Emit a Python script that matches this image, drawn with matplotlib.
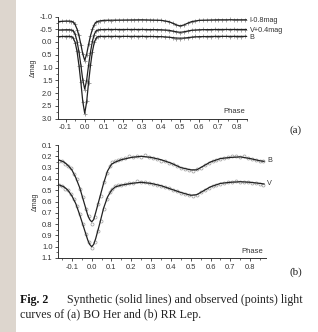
import matplotlib
matplotlib.use("Agg")
import matplotlib.pyplot as plt
from matplotlib.patches import Rectangle
from matplotlib.ticker import MultipleLocator

# ---------------- Data: (a) BO Her ----------------
phase_a_line = [-0.14, -0.10, -0.08, -0.07, -0.065, -0.06, -0.05, -0.04, -0.03, -0.02, -0.01, 0.0,
                0.01, 0.02, 0.03, 0.04, 0.05, 0.06, 0.065, 0.07, 0.08, 0.10, 0.20, 0.30, 0.40, 0.44,
                0.46, 0.48, 0.50, 0.52, 0.54, 0.56, 0.60, 0.70, 0.80, 0.85]
B_a_line = [-0.21, -0.22, -0.22, -0.21, -0.20, -0.15, 0.02, 0.38, 0.93, 1.60, 2.35, 2.80,
            2.35, 1.60, 0.93, 0.38, 0.02, -0.15, -0.20, -0.21, -0.22, -0.22, -0.22, -0.22, -0.21, -0.19,
            -0.17, -0.155, -0.15, -0.155, -0.17, -0.19, -0.21, -0.22, -0.22, -0.22]
V_a_line = [-0.47, -0.48, -0.48, -0.47, -0.46, -0.44, -0.30, -0.02, 0.40, 0.92, 1.50, 1.85,
            1.50, 0.92, 0.40, -0.02, -0.30, -0.44, -0.46, -0.47, -0.48, -0.49, -0.49, -0.49, -0.48, -0.46,
            -0.43, -0.40, -0.38, -0.40, -0.43, -0.46, -0.48, -0.49, -0.49, -0.49]
I_a_line = [-0.80, -0.82, -0.82, -0.81, -0.80, -0.78, -0.68, -0.50, -0.24, 0.10, 0.48, 0.72,
            0.48, 0.10, -0.24, -0.50, -0.68, -0.78, -0.80, -0.81, -0.83, -0.85, -0.86, -0.87, -0.85, -0.80,
            -0.74, -0.67, -0.63, -0.67, -0.74, -0.80, -0.85, -0.87, -0.87, -0.87]

phase_a_obs = [-0.14, -0.12, -0.10, -0.08, -0.07, -0.06, -0.05, -0.04, -0.03, -0.02,
               -0.01, 0.0, 0.01, 0.02, 0.03, 0.04, 0.05, 0.06, 0.07, 0.08,
               0.10, 0.12, 0.14, 0.16, 0.18, 0.20, 0.22, 0.24, 0.26, 0.28,
               0.30, 0.32, 0.34, 0.36, 0.38, 0.40, 0.42, 0.44, 0.46, 0.48,
               0.50, 0.52, 0.54, 0.56, 0.58, 0.60, 0.62, 0.64, 0.66, 0.68,
               0.70, 0.72, 0.74, 0.76, 0.78, 0.80, 0.82, 0.84]
B_a_obs = [-0.19, -0.24, -0.20, -0.23, -0.19, -0.14, 0.03, 0.36, 0.95, 1.58,
           2.37, 2.82, 2.33, 1.62, 0.90, 0.40, 0.01, -0.16, -0.21, -0.24,
           -0.20, -0.23, -0.21, -0.25, -0.20, -0.22, -0.24, -0.19, -0.23, -0.21,
           -0.25, -0.20, -0.22, -0.24, -0.19, -0.22, -0.20, -0.18, -0.15, -0.13,
           -0.12, -0.14, -0.16, -0.19, -0.22, -0.20, -0.24, -0.21, -0.19, -0.23,
           -0.20, -0.22, -0.25, -0.20, -0.23, -0.21, -0.19, -0.22]
V_a_obs = [-0.46, -0.49, -0.47, -0.49, -0.46, -0.43, -0.31, 0.00, 0.38, 0.94,
           1.48, 1.87, 1.52, 0.90, 0.42, -0.04, -0.29, -0.45, -0.47, -0.50,
           -0.47, -0.50, -0.48, -0.51, -0.47, -0.49, -0.51, -0.47, -0.50, -0.48,
           -0.51, -0.47, -0.49, -0.51, -0.47, -0.49, -0.47, -0.45, -0.42, -0.39,
           -0.37, -0.40, -0.43, -0.46, -0.49, -0.47, -0.51, -0.48, -0.47, -0.50,
           -0.47, -0.49, -0.51, -0.47, -0.50, -0.48, -0.47, -0.49]
I_a_obs = [-0.79, -0.83, -0.81, -0.83, -0.80, -0.77, -0.69, -0.48, -0.26, 0.12,
           0.46, 0.74, 0.50, 0.08, -0.22, -0.52, -0.67, -0.79, -0.80, -0.84,
           -0.84, -0.86, -0.84, -0.87, -0.85, -0.87, -0.85, -0.88, -0.86, -0.88,
           -0.86, -0.88, -0.86, -0.88, -0.85, -0.86, -0.83, -0.79, -0.74, -0.68,
           -0.62, -0.66, -0.73, -0.79, -0.83, -0.86, -0.87, -0.85, -0.88, -0.86,
           -0.88, -0.86, -0.87, -0.89, -0.86, -0.88, -0.87, -0.88]
labels_a = ["I-0.8mag", "V+0.4mag", "B"]
label_a_y = [-0.84, -0.46, -0.18]

# ---------------- Data: (b) RR Lep ----------------
phase_b_line = [-0.17, -0.14, -0.12, -0.10, -0.08, -0.06, -0.04, -0.02, -0.01, 0.0, 0.01, 0.02,
                0.04, 0.06, 0.08, 0.10, 0.12, 0.15, 0.20, 0.25, 0.30, 0.35, 0.40, 0.45, 0.50,
                0.53, 0.56, 0.60, 0.65, 0.70, 0.75, 0.80, 0.85, 0.87]
B_b_line = [0.23, 0.25, 0.28, 0.32, 0.39, 0.48, 0.60, 0.72, 0.76, 0.78, 0.76, 0.70,
            0.57, 0.44, 0.33, 0.27, 0.25, 0.23, 0.21, 0.20, 0.21, 0.23, 0.26, 0.30, 0.32,
            0.32, 0.29, 0.25, 0.22, 0.21, 0.205, 0.22, 0.24, 0.245]
V_b_line = [0.45, 0.47, 0.50, 0.55, 0.62, 0.72, 0.83, 0.94, 0.98, 1.00, 0.98, 0.93,
            0.80, 0.66, 0.56, 0.50, 0.47, 0.455, 0.44, 0.43, 0.44, 0.46, 0.49, 0.52, 0.545,
            0.54, 0.51, 0.47, 0.44, 0.43, 0.425, 0.43, 0.44, 0.445]

phase_b_obs = [-0.165, -0.15, -0.135, -0.12, -0.105, -0.09, -0.075, -0.06, -0.045, -0.03,
               -0.015, 0.0, 0.015, 0.03, 0.045, 0.06, 0.075, 0.09, 0.105, 0.12,
               0.135, 0.15, 0.17, 0.19, 0.21, 0.23, 0.25, 0.27, 0.29, 0.31,
               0.33, 0.35, 0.37, 0.39, 0.41, 0.43, 0.45, 0.47, 0.49, 0.51,
               0.53, 0.55, 0.57, 0.59, 0.61, 0.63, 0.65, 0.67, 0.69, 0.71,
               0.73, 0.75, 0.77, 0.79, 0.81, 0.83, 0.85, 0.865]
B_b_obs = [0.24, 0.245, 0.27, 0.29, 0.30, 0.36, 0.40, 0.49, 0.56, 0.67,
           0.73, 0.80, 0.74, 0.62, 0.55, 0.43, 0.35, 0.29, 0.25, 0.24,
           0.23, 0.22, 0.215, 0.20, 0.21, 0.195, 0.21, 0.19, 0.205, 0.215,
           0.22, 0.24, 0.24, 0.26, 0.27, 0.29, 0.30, 0.31, 0.32, 0.33,
           0.315, 0.30, 0.28, 0.26, 0.245, 0.23, 0.225, 0.215, 0.205, 0.20,
           0.195, 0.21, 0.20, 0.215, 0.225, 0.23, 0.24, 0.245]
V_b_obs = [0.45, 0.46, 0.485, 0.50, 0.535, 0.58, 0.64, 0.71, 0.80, 0.89,
           0.96, 1.01, 0.96, 0.86, 0.77, 0.67, 0.58, 0.52, 0.49, 0.465,
           0.455, 0.45, 0.445, 0.44, 0.435, 0.42, 0.43, 0.425, 0.44, 0.445,
           0.45, 0.46, 0.47, 0.48, 0.50, 0.51, 0.525, 0.53, 0.545, 0.55,
           0.54, 0.52, 0.50, 0.48, 0.465, 0.45, 0.445, 0.435, 0.43, 0.425,
           0.42, 0.43, 0.425, 0.43, 0.435, 0.44, 0.445, 0.45]
labels_b = ["B", "V"]
label_b_y = [0.24, 0.445]

# ---------------- Figure ----------------
W, H = 318, 332
fig = plt.figure(figsize=(W / 100, H / 100), dpi=100)
fig.patch.set_facecolor("white")
fig.patches.append(Rectangle((0, 0), 16 / W, 1, transform=fig.transFigure,
                             facecolor="#ddd6ce", edgecolor="none", zorder=0))

SANS = "Liberation Sans"
SERIF = "Liberation Serif"
tick_fs = 5.4


def px_axes(l, t, r, b):
    return fig.add_axes([l / W, 1 - b / H, (r - l) / W, (b - t) / H])


def style(ax):
    for s in ("top", "right"):
        ax.spines[s].set_visible(False)
    for s in ("left", "bottom"):
        ax.spines[s].set_linewidth(0.7)
        ax.spines[s].set_color("#333333")
    ax.tick_params(which="major", direction="out", length=2.5, width=0.6, labelsize=tick_fs,
                   colors="#333333", pad=1.5)
    ax.tick_params(which="minor", direction="out", length=1.3, width=0.5, colors="#333333")
    for lab in ax.get_xticklabels() + ax.get_yticklabels():
        lab.set_fontfamily(SANS)
    ax.set_facecolor("none")


# Panel (a)
ax1 = px_axes(58, 16.5, 247, 118.5)
for ph, obs in ((phase_a_obs, I_a_obs), (phase_a_obs, V_a_obs), (phase_a_obs, B_a_obs)):
    ax1.plot(ph, obs, linestyle="none", marker="+", markersize=3.0, markeredgewidth=0.55,
             color="#8a8a8a", zorder=2)
ax1.plot(phase_a_line, I_a_line, color="#222222", lw=0.9, zorder=3)
ax1.plot(phase_a_line, V_a_line, color="#222222", lw=0.9, zorder=3)
ax1.plot(phase_a_line, B_a_line, color="#222222", lw=0.9, zorder=3)
ax1.set_xlim(-0.14, 0.85)
ax1.set_ylim(3.0, -1.0)
ax1.set_xticks([-0.1, 0.0, 0.1, 0.2, 0.3, 0.4, 0.5, 0.6, 0.7, 0.8])
ax1.set_xticklabels(["-0.1", "0.0", "0.1", "0.2", "0.3", "0.4", "0.5", "0.6", "0.7", "0.8"])
ax1.xaxis.set_minor_locator(MultipleLocator(0.05))
ax1.set_yticks([-1.0, -0.5, 0.0, 0.5, 1.0, 1.5, 2.0, 2.5, 3.0])
ax1.set_yticklabels(["-1.0", "-0.5", "0.0", "0.5", "1.0", "1.5", "2.0", "2.5", "3.0"])
ax1.yaxis.set_minor_locator(MultipleLocator(0.25))
style(ax1)
ax1.set_ylabel("Δmag", fontsize=5, family=SANS, labelpad=2, color="#333333")
ax1.text(0.84, 2.85, "Phase", fontsize=5.5, family=SANS, ha="right", va="bottom", color="#333333")
for lab, yy in zip(labels_a, label_a_y):
    ax1.text(0.865, yy, lab, fontsize=5.2, family=SANS, ha="left", va="center", color="#333333",
             clip_on=False)

# Panel (b)
ax2 = px_axes(58, 145, 266, 258)
ax2.plot(phase_b_obs, B_b_obs, linestyle="none", marker="o", markersize=2.2, markeredgewidth=0.5,
         markerfacecolor="none", markeredgecolor="#9a9a9a", zorder=2)
ax2.plot(phase_b_obs, V_b_obs, linestyle="none", marker="o", markersize=2.2, markeredgewidth=0.5,
         markerfacecolor="none", markeredgecolor="#9a9a9a", zorder=2)
ax2.plot(phase_b_line, B_b_line, color="#222222", lw=0.9, zorder=3)
ax2.plot(phase_b_line, V_b_line, color="#222222", lw=0.9, zorder=3)
ax2.set_xlim(-0.17, 0.88)
ax2.set_ylim(1.1, 0.1)
ax2.set_xticks([-0.1, 0.0, 0.1, 0.2, 0.3, 0.4, 0.5, 0.6, 0.7, 0.8])
ax2.set_xticklabels(["-0.1", "0.0", "0.1", "0.2", "0.3", "0.4", "0.5", "0.6", "0.7", "0.8"])
ax2.xaxis.set_minor_locator(MultipleLocator(0.05))
ax2.set_yticks([0.1, 0.2, 0.3, 0.4, 0.5, 0.6, 0.7, 0.8, 0.9, 1.0, 1.1])
ax2.set_yticklabels(["0.1", "0.2", "0.3", "0.4", "0.5", "0.6", "0.7", "0.8", "0.9", "1.0", "1.1"])
ax2.yaxis.set_minor_locator(MultipleLocator(0.05))
style(ax2)
ax2.set_ylabel("Δmag", fontsize=5, family=SANS, labelpad=2, color="#333333")
ax2.text(0.865, 1.07, "Phase", fontsize=5.5, family=SANS, ha="right", va="bottom", color="#333333")
for lab, yy in zip(labels_b, label_b_y):
    ax2.text(0.885, yy, lab, fontsize=5.2, family=SANS, ha="left", va="center", color="#333333",
             clip_on=False)

# Panel tags
fig.text(296 / W, 1 - 130 / H, "(a)", fontsize=8, family=SERIF, ha="center", va="center", color="#222222")
fig.text(296 / W, 1 - 272 / H, "(b)", fontsize=8, family=SERIF, ha="center", va="center", color="#222222")

# Caption
cap_fs = 8.6
fig.text(20 / W, 1 - 303 / H, "Fig. 2", fontsize=cap_fs, family=SERIF, weight="bold", ha="left",
         va="baseline", color="#111111")
fig.text(67 / W, 1 - 303 / H, "Synthetic (solid lines) and observed (points) light", fontsize=cap_fs,
         family=SERIF, ha="left", va="baseline", color="#222222")
fig.text(20 / W, 1 - 318 / H, "curves of (a) BO Her and (b) RR Lep.", fontsize=cap_fs,
         family=SERIF, ha="left", va="baseline", color="#222222")

fig.savefig("out.png", dpi=100)
